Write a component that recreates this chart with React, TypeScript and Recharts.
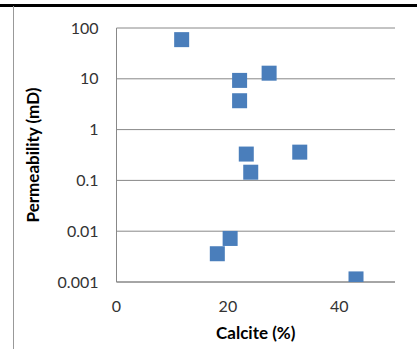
import {
    ScatterChart,
    Scatter,
    XAxis,
    YAxis,
    CartesianGrid,
} from "recharts"

// calcite (%) vs permeability (mD)
const calcite = [11.7, 22.1, 22.1, 27.4, 23.3, 24.1, 32.9, 20.4, 18.1, 43.0]
const permeability = [59, 9.3, 3.7, 12.9, 0.33, 0.145, 0.36, 0.0072, 0.0036, 0.00115]

const xTicks = [0, 20, 40]
const yTicks = [0.001, 0.01, 0.1, 1, 10, 100]

const MARKER = "#4A7EBB"
const LINE = "#888888"
const FONT = "Lato, 'Open Sans', sans-serif"
const SIDE = 15

const data = calcite.map((c, i) => ({ calcite: c, perm: permeability[i] }))

const tick = { fill: "#333333", fontSize: 16, fontFamily: FONT }
const titleStyle = { fill: "#000000", fontSize: 17, fontWeight: 700, fontFamily: FONT }

const SquareMarker = (props: any) => {
    const { cx, cy } = props
    if (cx == null || cy == null) return null
    return <rect x={cx - SIDE / 2} y={cy - SIDE / 2} width={SIDE} height={SIDE} fill={MARKER} />
}

export default function App() {
    return (
        <div
            style={{
                position: "absolute",
                left: 0,
                top: 0,
                width: 417,
                height: 349,
                background: "#ffffff",
                overflow: "hidden",
            }}
        >
            {/* page borders around the figure */}
            <div style={{ position: "absolute", left: 0, top: 4, width: 417, height: 3, background: "#000" }} />
            <div style={{ position: "absolute", left: 13, top: 6, width: 1, height: 343, background: "#999" }} />
            <ScatterChart
                width={417}
                height={349}
                margin={{ top: 28, right: 22, left: 0, bottom: 7 }}
                style={{ position: "absolute", left: 0, top: 0 }}
            >
                <CartesianGrid vertical={false} stroke={LINE} strokeWidth={1} />
                <XAxis
                    type="number"
                    dataKey="calcite"
                    domain={[0, 50]}
                    ticks={xTicks}
                    height={60}
                    tick={tick}
                    tickLine={false}
                    tickSize={0}
                    tickMargin={19}
                    axisLine={{ stroke: LINE }}
                    label={{ value: "Calcite (%)", position: "insideBottom", offset: 3, style: titleStyle }}
                />
                <YAxis
                    type="number"
                    dataKey="perm"
                    scale="log"
                    domain={[0.001, 100]}
                    allowDataOverflow
                    ticks={yTicks}
                    width={116.5}
                    tick={tick}
                    tickLine={false}
                    tickSize={0}
                    tickMargin={18}
                    axisLine={{ stroke: LINE }}
                    tickFormatter={(v: number) => String(v)}
                    label={{
                        value: "Permeability (mD)",
                        angle: -90,
                        position: "insideLeft",
                        offset: 33,
                        style: { ...titleStyle, textAnchor: "middle" },
                    }}
                />
                <Scatter data={data} fill={MARKER} shape={SquareMarker} isAnimationActive={false} />
            </ScatterChart>
        </div>
    )
}
